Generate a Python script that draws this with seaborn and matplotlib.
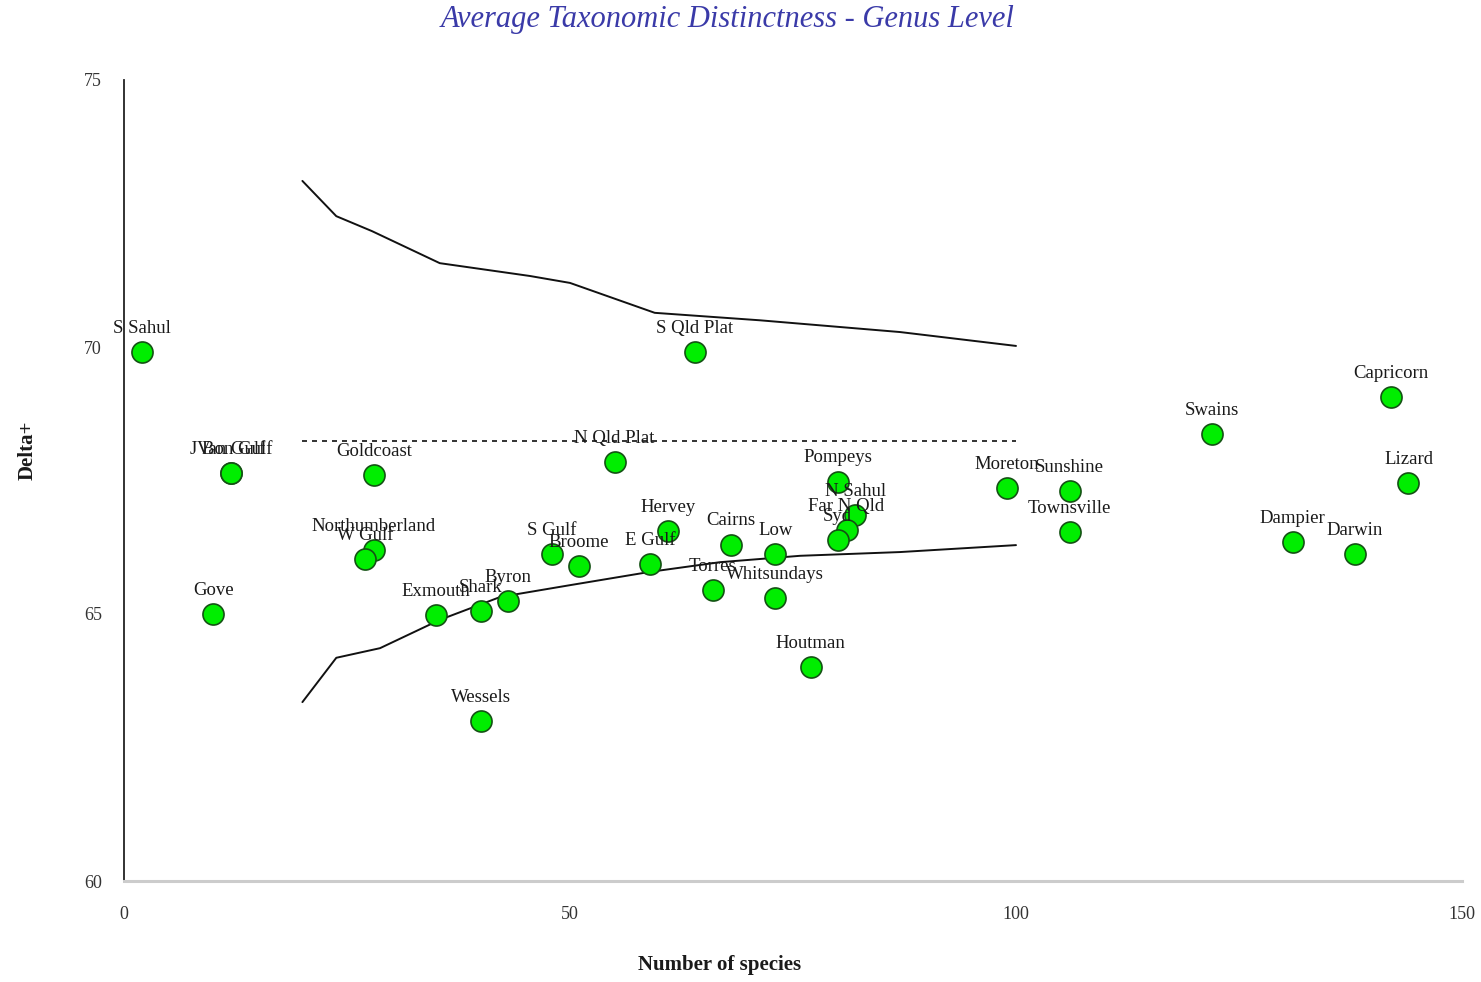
import matplotlib
matplotlib.use("Agg")
import matplotlib.pyplot as plt
import seaborn as sns
import pandas as pd

# Locations: number of species (S) and average taxonomic distinctness (Delta+)
sites = ["S Sahul", "J Bon Gulf", "Van Gulf", "Goldcoast", "Gove", "Northumberland",
         "W Gulf", "Exmouth", "Shark", "Byron", "Wessels", "S Gulf", "Broome",
         "N Qld Plat", "E Gulf", "Hervey", "S Qld Plat", "Torres", "Cairns", "Low",
         "Whitsundays", "Houtman", "Pompeys", "N Sahul", "Far N Qld", "Syd",
         "Moreton", "Sunshine", "Townsville", "Swains", "Capricorn", "Lizard",
         "Dampier", "Darwin"]
species = [2, 12, 12, 28, 10, 28, 27, 35, 40, 43, 40, 48, 51, 55, 59, 61, 64, 66,
           68, 73, 73, 77, 80, 82, 81, 80, 99, 106, 106, 122, 142, 144, 131, 138]
delta = [69.9, 67.64, 67.64, 67.6, 65.0, 66.2, 66.03, 64.98, 65.06, 65.24, 63.0,
         66.12, 65.9, 67.85, 65.94, 66.55, 69.9, 65.45, 66.3, 66.12, 65.3, 64.0,
         67.48, 66.85, 66.57, 66.39, 67.36, 67.3, 66.54, 68.37, 69.06, 67.45,
         66.35, 66.12]

# Expected mean and 95% probability funnel by sub-sample size
mean_delta = 68.24
funnel_s = [20, 23.8, 27.8, 35.4, 45.5, 50, 59.5, 71.3, 87, 100]
funnel_upper = [73.11, 72.45, 72.17, 71.57, 71.33, 71.2, 70.64, 70.5, 70.28, 70.02]
funnel_lower_s = [20, 23.8, 28.7, 35.4, 42.2, 50, 59, 66.8, 75.8, 87, 100]
funnel_lower = [63.35, 64.18, 64.36, 64.89, 65.32, 65.54, 65.79, 65.97, 66.09, 66.16, 66.29]

x_ticks = [0, 50, 100, 150]
y_ticks = [60, 65, 70, 75]

sns.set_style("white")
plt.rcParams["font.family"] = ["Liberation Serif", "DejaVu Serif"]

fig = plt.figure(figsize=(14.81, 9.82), dpi=100)
ax = fig.add_axes([124 / 1481, 101 / 982, (1462 - 124) / 1481, (881 - 80) / 982])

pts = pd.DataFrame({"site": sites, "S": species, "delta": delta})
up = pd.DataFrame({"S": funnel_s, "d": funnel_upper})
lo = pd.DataFrame({"S": funnel_lower_s, "d": funnel_lower})
mn = pd.DataFrame({"S": [funnel_s[0], funnel_s[-1]], "d": [mean_delta, mean_delta]})

sns.lineplot(data=up, x="S", y="d", ax=ax, color="#111111", lw=1.4, sort=False)
sns.lineplot(data=lo, x="S", y="d", ax=ax, color="#111111", lw=1.4, sort=False)
sns.lineplot(data=mn, x="S", y="d", ax=ax, color="#111111", lw=1.2,
             linestyle=(0, (3, 3)))
sns.scatterplot(data=pts, x="S", y="delta", ax=ax, s=230, color="#00ee00",
                edgecolor="#145214", linewidth=1.2, zorder=5)

for name, s, d in zip(sites, species, delta):
    ax.annotate(name, (s, d), xytext=(0, 17), textcoords="offset points",
                ha="center", va="center", fontsize=13.5, color="#1a1a1a", zorder=6)

ax.set_xlim(0, 150)
ax.set_ylim(60, 75)
ax.set_xticks(x_ticks)
ax.set_yticks(y_ticks)
ax.set_xticklabels([str(v) for v in x_ticks], fontsize=13)
ax.set_yticklabels([str(v) for v in y_ticks], fontsize=13)
ax.tick_params(axis="x", direction="inout", length=28, width=1.2, color="#222222",
               pad=4, labelcolor="#333333")
ax.tick_params(axis="y", direction="inout", length=24, width=1.2, color="#bbbbbb",
               pad=4, labelcolor="#333333")

for side in ("top", "right"):
    ax.spines[side].set_visible(False)
ax.spines["left"].set_color("#222222")
ax.spines["left"].set_linewidth(1.3)
ax.spines["bottom"].set_color("#cccccc")
ax.spines["bottom"].set_linewidth(2.2)

ax.set_xlabel("")
ax.set_ylabel("")
fig.text(720 / 1481, 1 - 965 / 982, "Number of species", ha="center", va="center",
         fontsize=15, fontweight="bold", color="#1a1a1a")
fig.text(28 / 1481, 1 - 450 / 982, "Delta+", ha="center", va="center", rotation=90,
         fontsize=15, fontweight="bold", color="#1a1a1a")
fig.text(728 / 1481, 1 - 20 / 982, "Average Taxonomic Distinctness - Genus Level",
         ha="center", va="center", fontsize=22, style="italic", color="#3a3aa8")

fig.savefig("out.png", dpi=100, facecolor="white")
